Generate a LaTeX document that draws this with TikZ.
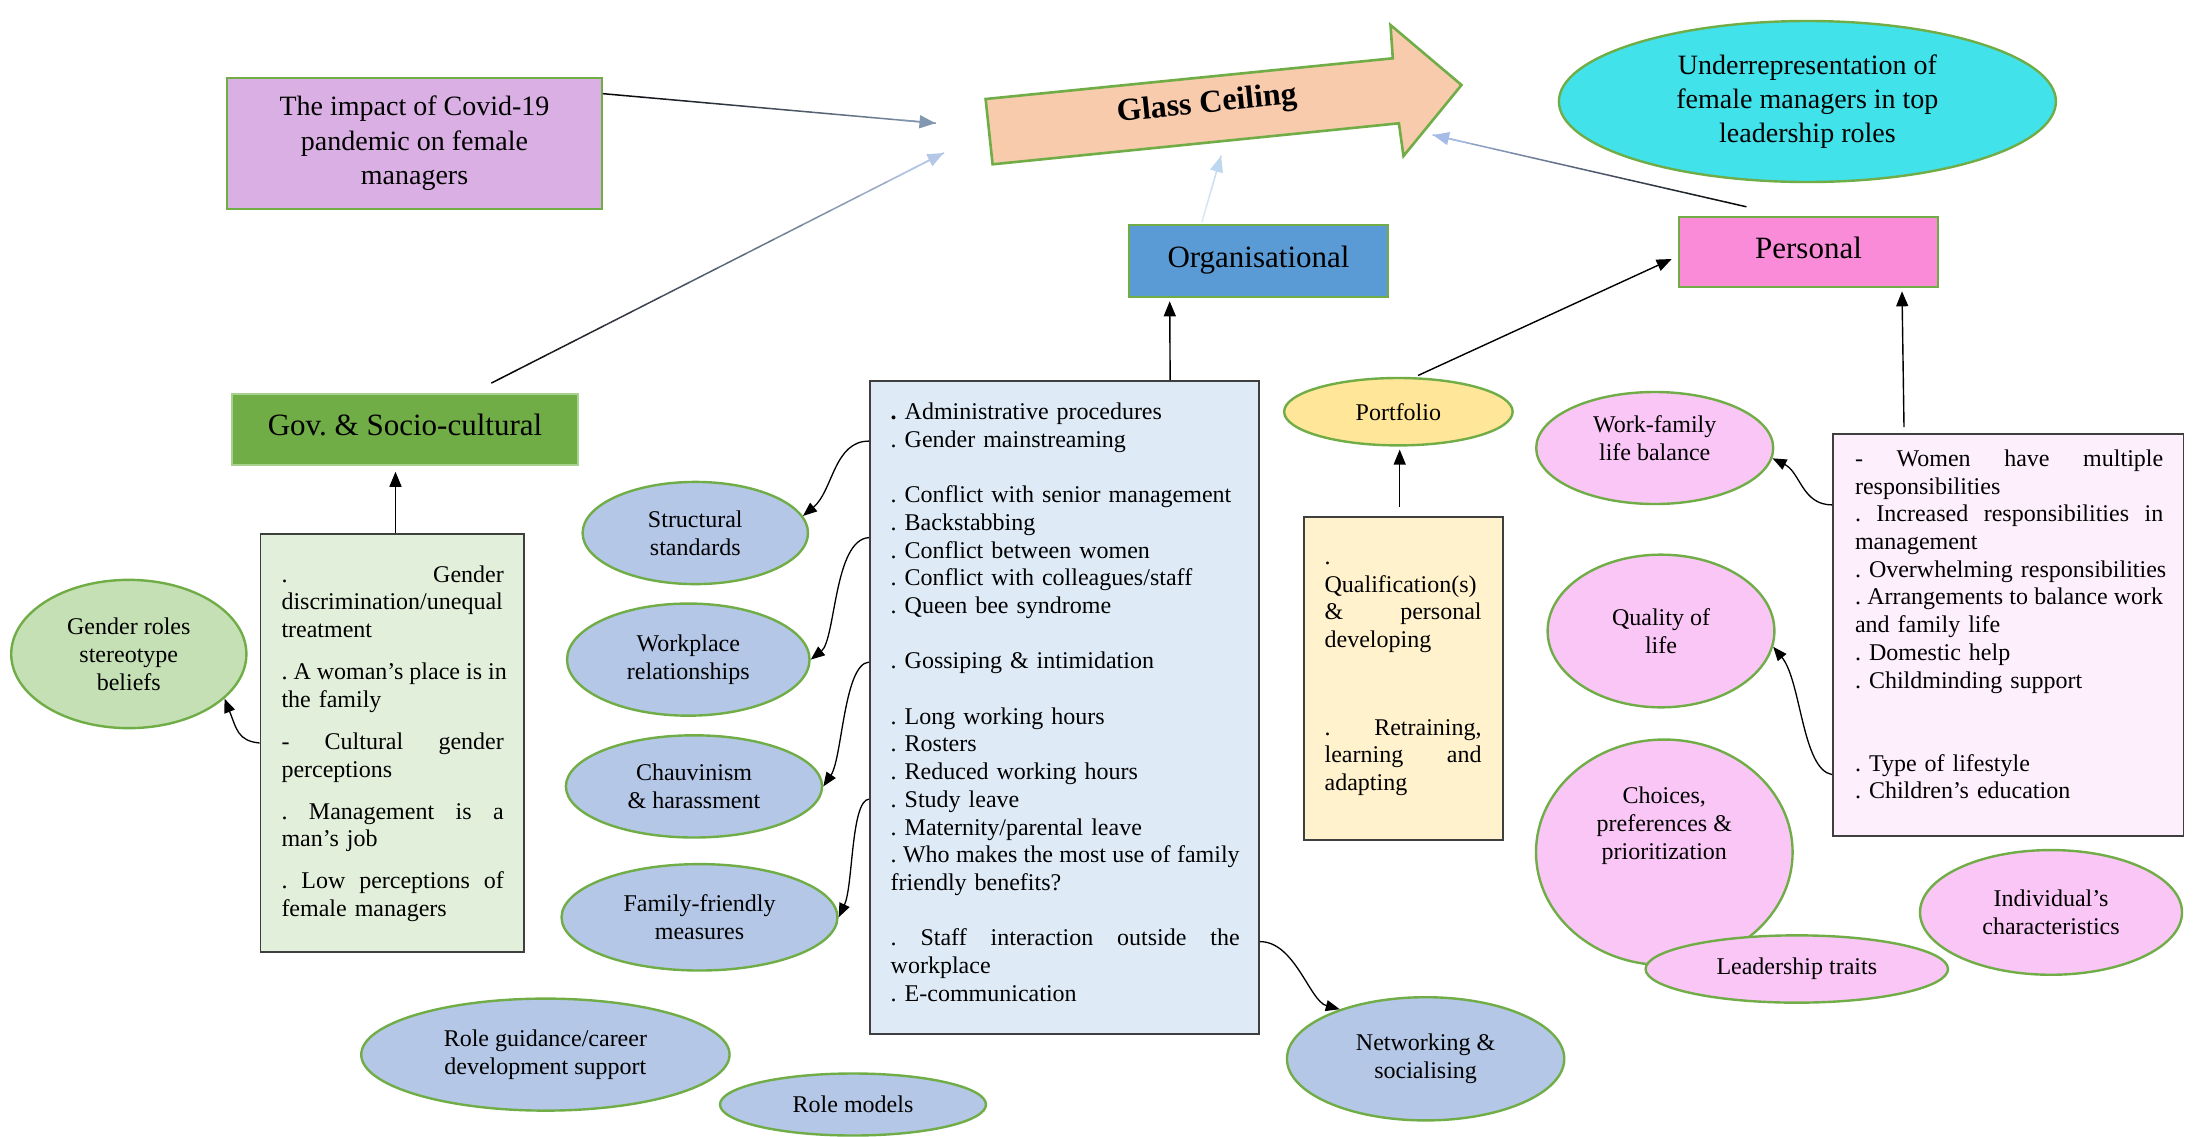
\documentclass[tikz,border=0pt]{standalone}
\usepackage{fontspec}
\setmainfont{Liberation Serif}
\usetikzlibrary{shapes.geometric,arrows.meta,calc}
\frenchspacing
\hyphenpenalty=10000
\exhyphenpenalty=10000

\definecolor{grnline}{HTML}{70AD47}
\definecolor{govline}{HTML}{A9D18E}
\definecolor{govfill}{HTML}{70AD47}
\definecolor{covidfill}{HTML}{DAB0E4}
\definecolor{gcfill}{HTML}{F8CBAD}
\definecolor{cyanfill}{HTML}{41E2EA}
\definecolor{orgfill}{HTML}{5B9BD5}
\definecolor{persfill}{HTML}{F98BD9}
\definecolor{gellfill}{HTML}{C5E0B4}
\definecolor{govlistfill}{HTML}{E2EFDA}
\definecolor{ellblue}{HTML}{B4C7E7}
\definecolor{orglistfill}{HTML}{DEEBF7}
\definecolor{portfill}{HTML}{FFE699}
\definecolor{qualfill}{HTML}{FFF2CC}
\definecolor{ellpink}{HTML}{FAC6F6}
\definecolor{perslistfill}{HTML}{FEEFFD}
\definecolor{listline}{HTML}{3F3F3F}
\definecolor{endgray}{HTML}{8497B0}
\definecolor{endblue}{HTML}{B4C7E7}
\definecolor{palestart}{HTML}{DEEBF7}
\definecolor{paleend}{HTML}{BDD7EE}
\definecolor{persend}{HTML}{A6BCE6}

\newcommand\fs[2]{\fontsize{#1}{#2}\selectfont}
% a fully justified line: interword spaces stretch to fill the given width
\newcommand\jl[2]{\leavevmode\hbox to #1{\spaceskip=0.25em plus 1fil\relax #2}}

% straight connector whose colour fades from #3 to #4, ending in a tip
\newcommand\gradarrow[4]{%
  \foreach \k in {0,...,15}{%
    \pgfmathsetmacro\gaA{\k/16}%
    \pgfmathsetmacro\gaB{(\k+1)/16}%
    \pgfmathsetmacro\gaP{(\k+0.5)/16*100}%
    \draw[gradseg, draw=#4!\gaP!#3] ($(#1)!\gaA!(#2)$) -- ($(#1)!\gaB!(#2)$);
  }%
  \draw[gradseg, draw=#4, fill=#4, -{Triangle[length=16pt,width=13pt]}] ($(#1)!0.9!(#2)$) -- (#2);
}

\tikzset{
  ell/.style={ellipse, draw=grnline, line width=2.4pt, inner sep=0pt, align=center, font=\fs{24}{28}},
  blueell/.style={ell, fill=ellblue},
  pinkell/.style={ell, fill=ellpink},
  box/.style={rectangle, inner sep=0pt, align=center},
  headtext/.style={font=\fs{31}{36}, text height=22pt, text depth=10pt},
  headbox/.style={box, headtext, draw=grnline, line width=2.6pt},
  listbox/.style={rectangle, draw=listline, line width=1.8pt, inner sep=0pt},
  listtext/.style={anchor=base west, inner sep=0pt, align=left, font=\fs{24}{27.7}},
  lbl/.style={inner sep=0pt, align=center, font=\fs{24}{28}},
  blackarrow/.style={draw=black, line width=1.4pt, -{Triangle[length=15pt,width=12pt]}},
  curvearrow/.style={draw=black, line width=1.3pt, -{Triangle[length=14pt,width=11pt]}},
  gradseg/.style={line width=1.5pt, line cap=round},
  gcshape/.style={draw=grnline, line width=2.6pt, fill=gcfill, line join=miter},
}

\begin{document}
\begin{tikzpicture}[x=1pt,y=-1pt]
\useasboundingbox (0,0) rectangle (2196,1136);
\fill[white] (0,0) rectangle (2196,1136);

% central block arrow
\draw[gcshape] (985.6,99) -- (1392.8,58.3) -- (1390.5,25) -- (1461.5,85) -- (1403.5,156) -- (1398.9,123.3) -- (992.6,164.3) -- cycle;
\node[inner sep=0pt, font=\bfseries\fs{32}{38}, rotate=5.77] (gclabel) at (1207,105) {Glass Ceiling};

% top row
\node[box, draw=grnline, line width=2.6pt, fill=covidfill, minimum width=375pt, minimum height=131pt, font=\fs{28}{34.5}] (covid) at (414.5,143.5) {The impact of Covid-19\\pandemic on female\\managers};
\node[ell, fill=cyanfill, minimum width=497pt, minimum height=161pt, font=\fs{28}{34}] (underrep) at (1807.4,101.5) {Underrepresentation of\\female managers in top\\leadership roles};

% category boxes
\node[headbox, fill=orgfill, minimum width=259pt, minimum height=72pt] (orgbox) at (1258.5,261) {Organisational};
\node[headbox, fill=persfill, minimum width=259pt, minimum height=70pt] (persbox) at (1808.5,252) {Personal};
\node[box, headtext, fill=govfill, draw=govline, line width=1.5pt, minimum width=346pt, minimum height=71pt] (govbox) at (405,429.5) {Gov. \& Socio-cultural};

% list boxes
\node[listbox, fill=govlistfill, minimum width=263.3pt, minimum height=418.7pt] (govlist) at (392.2,743) {};
\node[listbox, fill=orglistfill, minimum width=389.3pt, minimum height=652.6pt] (orglist) at (1064.4,707.3) {};
\node[listbox, fill=qualfill, minimum width=199pt, minimum height=323pt] (qualbox) at (1403.5,678.4) {};
\node[listbox, fill=perslistfill, minimum width=350.4pt, minimum height=402pt] (perslist) at (2008.2,635) {};

\node[listtext, text width=222.3pt] (govtext) at (281.3,582) {%
\jl{222.3pt}{. Gender}\\
discrimination/unequal\\
treatment\\[14.4pt]
\jl{222.3pt}{. A woman’s place is in}\\
the family\\[14.4pt]
\jl{222.3pt}{- Cultural gender}\\
perceptions\\[14.4pt]
\jl{222.3pt}{. Management is a}\\
man’s job\\[14.4pt]
\jl{222.3pt}{. Low perceptions of}\\
female managers};

\node[listtext, text width=349pt] (orgtext) at (890.5,419.5) {%
\textbf{.} Administrative procedures\\
. Gender mainstreaming\\[27.7pt]
. Conflict with senior management\\
. Backstabbing\\
. Conflict between women\\
. Conflict with colleagues/staff\\
. Queen bee syndrome\\[27.7pt]
. Gossiping \& intimidation\\[27.7pt]
. Long working hours\\
. Rosters\\
. Reduced working hours\\
. Study leave\\
. Maternity/parental leave\\
\jl{349pt}{. Who makes the most use of family}\\
friendly benefits?\\[27.7pt]
\jl{349pt}{. Staff interaction outside the}\\
workplace\\
. E-communication};

\node[listtext, text width=157pt] (qualtext) at (1324.4,564.5) {%
.\\
Qualification(s)\\
\jl{157pt}{\& personal}\\
developing\\[59.7pt]
\jl{157pt}{. Retraining,}\\
\jl{157pt}{learning and}\\
adapting};

\node[listtext, text width=308.2pt] (perstext) at (1854.8,466.4) {%
\jl{308.2pt}{- Women have multiple}\\
responsibilities\\
\jl{308.2pt}{. Increased responsibilities in}\\
management\\
\mbox{. Overwhelming responsibilities}\\
\jl{308.2pt}{. Arrangements to balance work}\\
and family life\\
. Domestic help\\
. Childminding support\\[55.4pt]
. Type of lifestyle\\
. Children’s education};

% ellipses
\node[ell, fill=gellfill, minimum width=235.2pt, minimum height=148.3pt] (gender) at (128.8,654) {Gender roles\\stereotype\\beliefs};
\node[blueell, minimum width=225.4pt, minimum height=102.2pt] (structural) at (695.3,533) {Structural\\standards};
\node[blueell, minimum width=242.5pt, minimum height=112.1pt] (workplace) at (688.3,659.6) {Workplace\\relationships};
\node[blueell, minimum width=256.2pt, minimum height=102.2pt] (chauv) at (694,786.4) {Chauvinism\\\& harassment};
\node[blueell, minimum width=275.9pt, minimum height=106.4pt] (family) at (699.5,917.3) {Family-friendly\\measures};
\node[blueell, minimum width=368.3pt, minimum height=112pt] (roleguid) at (545.4,1054.6) {Role guidance/career\\development support};
\node[blueell, minimum width=266pt, minimum height=62pt] (rolemodels) at (853,1104.5) {Role models};
\node[blueell, minimum width=277.3pt, minimum height=123.2pt] (network) at (1425.6,1058.8) {Networking \&\\socialising};
\node[ell, fill=portfill, minimum width=228.5pt, minimum height=67.4pt] (portfolio) at (1398.4,411.7) {Portfolio};
\node[pinkell, minimum width=237pt, minimum height=112pt] (workfam) at (1654.7,448) {};
\node[lbl] (workfamtext) at ($(workfam)+(0,-10)$) {Work-family\\life balance};
\node[pinkell, minimum width=226.8pt, minimum height=152.7pt] (quality) at (1661,631) {Quality of\\life};
\node[pinkell, minimum width=256.6pt, minimum height=225.5pt] (choices) at (1664.3,852.3) {};
\node[lbl] (choicestext) at ($(choices)+(0,-27)$) {Choices,\\preferences \&\\prioritization};
\node[pinkell, minimum width=262pt, minimum height=124.7pt] (individual) at (2051,912.4) {Individual’s\\characteristics};
\node[pinkell, minimum width=302.4pt, minimum height=67.3pt] (leadership) at (1796.8,969) {Leadership traits};

% fading connectors into the block arrow
\coordinate (covidOut) at ($(covid.north east)+(0,17)$);
\coordinate (gcInA) at (935.5,123.2);
\coordinate (govOut) at ($(govbox.north)+(86.6,-10.3)$);
\coordinate (gcInB) at (943.6,153);
\coordinate (orgOut) at ($(orgbox.north)+(-56.5,-2)$);
\coordinate (gcInC) at (1221,156);
\coordinate (persOut) at ($(persbox.north)+(-62.5,-9)$);
\coordinate (gcInD) at (1433,135);
\gradarrow{covidOut}{gcInA}{black}{endgray}
\gradarrow{govOut}{gcInB}{black}{endblue}
\gradarrow{orgOut}{gcInC}{palestart}{paleend}
\gradarrow{persOut}{gcInD}{black}{persend}

% straight connectors
\draw[blackarrow] ($(orglist.north west)+(301.3,0)$) -- ($(orgbox.south west)+(42,3)$);
\draw[blackarrow] ($(govlist.north)+(3.3,0)$) -- ($(govbox.south)+(-9.5,6)$);
\draw[blackarrow] ($(qualbox.north)+(-3.8,-8.8)$) -- ($(portfolio.south)+(1.3,3)$);
\draw[blackarrow] ($(portfolio.north)+(19.6,-1.3)$) -- ($(persbox.west)+(-6,7)$);
\draw[blackarrow] ($(perslist.north)+(-104.2,-6)$) -- ($(persbox.south)+(93.5,3)$);

% curved connectors
\draw[curvearrow] (govlist.west) .. controls +(-22,-2) and +(12,30) .. (gender.-25);
\draw[curvearrow] ($(orglist.north west)+(0,61)$) .. controls +(-35,0) and +(30,-25) .. (structural.9);
\draw[curvearrow] ($(orglist.north west)+(0,157.5)$) .. controls +(-35,2) and +(25,-20) .. (workplace.east);
\draw[curvearrow] ($(orglist.north west)+(0,282)$) .. controls +(-25,2) and +(19,-28) .. (chauv.east);
\draw[curvearrow] ($(orglist.north west)+(0,419)$) .. controls +(-18,2) and +(14.5,-31) .. (family.east);
\draw[curvearrow] ($(orglist.north east)+(0,561.5)$) .. controls +(35,0) and +(-30,-8) .. (network.150);
\draw[curvearrow] ($(perslist.north west)+(0,71.8)$) .. controls +(-30,0) and +(28,14) .. (workfam.-5);
\draw[curvearrow] ($(perslist.north west)+(0,341.5)$) .. controls +(-30,-5) and +(28,34) .. (quality.-8);
\end{tikzpicture}
\end{document}
